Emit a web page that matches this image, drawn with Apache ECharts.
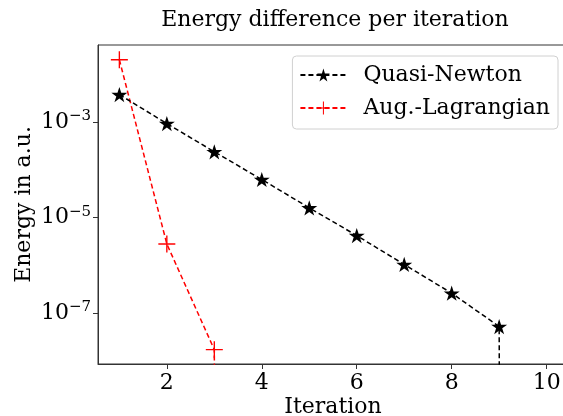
<!DOCTYPE html>
<html>
<head>
<meta charset="utf-8">
<script src="https://cdn.jsdelivr.net/npm/echarts@6/dist/echarts.min.js"></script>
<style>
  html, body { margin: 0; padding: 0; background: #fff; }
  #chart { width: 563px; height: 416px; }
</style>
</head>
<body>
<div id="chart"></div>
<script>
// data (last value 0 = converged, drawn as a drop to the axis)
const iterQN = [1, 2, 3, 4, 5, 6, 7, 8, 9, 10];
const energyQN = [3.8e-3, 9.4e-4, 2.4e-4, 6.3e-5, 1.6e-5, 4.2e-6, 1.04e-6, 2.6e-7, 5.2e-8, 0];
const iterAL = [1, 2, 3, 4];
const energyAL = [2.05e-2, 2.8e-6, 1.7e-8, 0];
const xTicks = [2, 4, 6, 8, 10];
const yTicks = [1e-3, 1e-5, 1e-7];

const FONT = 'DejaVu Serif';
const STAR = 'path://M0,-50 L11.23,-15.45 L47.55,-15.45 L18.16,5.9 L29.39,40.45 L0,19.1 L-29.39,40.45 L-18.16,5.9 L-47.55,-15.45 L-11.23,-15.45 Z';
const PLUS = 'path://M-0.8,-10 H0.8 V-0.8 H10 V0.8 H0.8 V10 H-0.8 V0.8 H-10 V-0.8 H-0.8 Z';

// like matplotlib's clip of non-positive values on a log axis
function toPairs(xs, ys) {
  return xs.map((x, i) => [x, ys[i] > 0 ? ys[i] : 1e-300]);
}

var myChart = echarts.init(document.getElementById('chart'));
var option = {
  animation: false,
  title: {
    text: 'Energy difference per iteration',
    left: 330, top: 4, textAlign: 'center',
    textStyle: { fontFamily: FONT, fontSize: 22, fontWeight: 'normal', color: '#000' }
  },
  legend: {
    right: 5, top: 56,
    orient: 'vertical',
    padding: [8, 8, 10, 7],
    itemGap: 11,
    itemWidth: 46, itemHeight: 16,
    borderColor: '#d0d0d0', borderWidth: 1, borderRadius: 4,
    textStyle: { fontFamily: FONT, fontSize: 22, color: '#000', padding: [0, 0, 0, 12] },
    data: ['Quasi-Newton', 'Aug.-Lagrangian']
  },
  grid: {
    left: 98, right: -5, top: 45, bottom: 52,
    outerBoundsMode: 'none', containLabel: false,
    show: true, borderColor: '#333', borderWidth: 1
  },
  xAxis: {
    type: 'value', min: 0.55, max: 10.45,
    name: 'Iteration', nameLocation: 'middle', nameGap: 32,
    nameMoveOverlap: false,
    nameTextStyle: { fontFamily: FONT, fontSize: 22, color: '#000' },
    axisLine: { lineStyle: { color: '#333', width: 1 } },
    axisTick: { customValues: xTicks, length: 5, lineStyle: { color: '#333' } },
    axisLabel: { customValues: xTicks, fontFamily: FONT, fontSize: 22, color: '#000', margin: 8 },
    splitLine: { show: false }
  },
  yAxis: {
    type: 'log', logBase: 10,
    min: Math.pow(10, -8.07), max: Math.pow(10, -1.38),
    name: 'Energy in a.u.', nameLocation: 'middle', nameGap: 63,
    nameMoveOverlap: false,
    nameTextStyle: { fontFamily: FONT, fontSize: 22, color: '#000' },
    axisLine: { show: true, lineStyle: { color: '#333', width: 1 } },
    axisTick: { show: true, customValues: yTicks, length: 5, lineStyle: { color: '#333' } },
    axisLabel: {
      customValues: yTicks, margin: 7,
      formatter: function (v) {
        return '{b|10}{s|\u2212' + Math.round(-Math.log10(v)) + '}';
      },
      rich: {
        b: { fontFamily: FONT, fontSize: 22, color: '#000' },
        s: { fontFamily: FONT, fontSize: 15, color: '#000', padding: [0, 0, 12, 0] }
      }
    },
    splitLine: { show: false }
  },
  series: [
    {
      name: 'Quasi-Newton', type: 'line',
      data: toPairs(iterQN, energyQN),
      symbol: STAR, symbolSize: 16, symbolKeepAspect: true,
      itemStyle: { color: '#000' },
      lineStyle: { color: '#000', width: 1.5, type: [5, 3] },
      clip: true, z: 3
    },
    {
      name: 'Aug.-Lagrangian', type: 'line',
      data: toPairs(iterAL, energyAL),
      symbol: PLUS, symbolSize: 17,
      itemStyle: { color: '#ff0000' },
      lineStyle: { color: '#ff0000', width: 1.5, type: [5, 3] },
      clip: true, z: 2
    }
  ]
};
myChart.setOption(option);
</script>
</body>
</html>
